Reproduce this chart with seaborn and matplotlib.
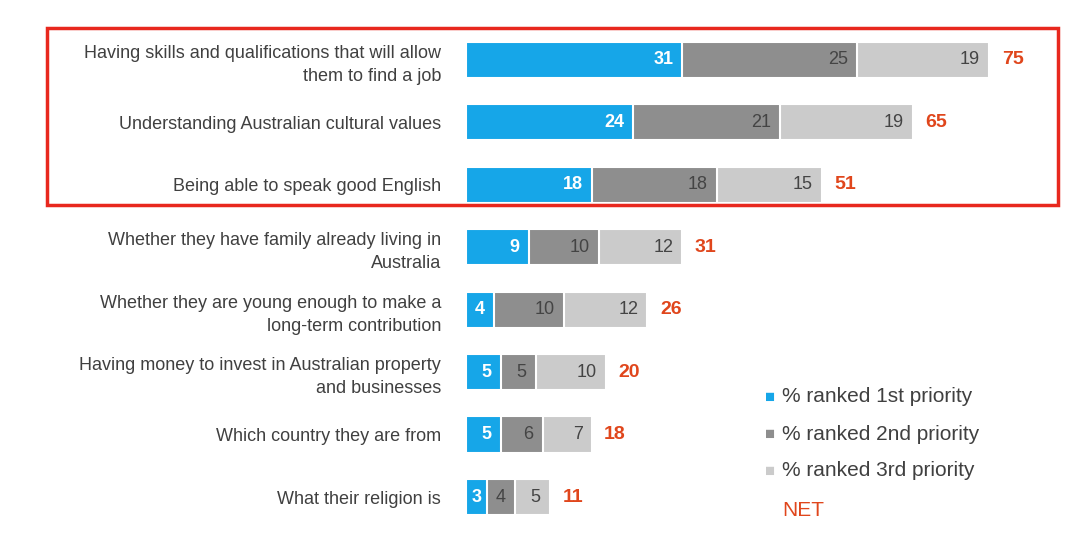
import matplotlib
matplotlib.use("Agg")
import matplotlib.pyplot as plt
import seaborn as sns
import pandas as pd
from matplotlib.patches import Rectangle

labels = ["Having skills and qualifications that will allow\nthem to find a job",
          "Understanding Australian cultural values",
          "Being able to speak good English",
          "Whether they have family already living in\nAustralia",
          "Whether they are young enough to make a\nlong-term contribution",
          "Having money to invest in Australian property\nand businesses",
          "Which country they are from",
          "What their religion is"]
first = [31, 24, 18, 9, 4, 5, 5, 3]
second = [25, 21, 18, 10, 10, 5, 6, 4]
third = [19, 19, 15, 12, 12, 10, 7, 5]
net = [75, 65, 51, 31, 26, 20, 18, 11]

blue, dark, light, red = "#16a6e8", "#8e8e8e", "#cbcbcb", "#e0461c"

sns.set_style("white")
plt.rcParams['font.family'] = ['Liberation Sans', 'DejaVu Sans']
fig = plt.figure(figsize=(10.8, 5.47), dpi=100)
ax = fig.add_axes([466 / 1080, 0, 1 - 466 / 1080, 1])

df = pd.DataFrame({"label": labels, "f": first, "s": second, "t": third})
df["c2"] = df["f"] + df["s"]
df["c3"] = df["c2"] + df["t"]

for col, c in [("c3", light), ("c2", dark), ("f", blue)]:
    sns.barplot(data=df, x=col, y="label", color=c, width=0.58, saturation=1,
                edgecolor="white", linewidth=1.5, ax=ax)

for i in range(len(labels)):
    ax.text(first[i] - 1.3 if first[i] > 4 else first[i] / 2, i, str(first[i]),
            ha="right" if first[i] > 4 else "center",
            va="center", color="white", fontsize=13, fontweight="bold")
    ax.text(df["c2"][i] - 1.3, i, str(second[i]), ha="right", va="center", color="#444444", fontsize=13)
    ax.text(df["c3"][i] - 1.3, i, str(third[i]), ha="right", va="center", color="#444444", fontsize=13)
    ax.text(df["c3"][i] + 1.8, i, str(net[i]), ha="left", va="center", color=red,
            fontsize=14, fontweight="bold")
ax.set_xlim(0, 88)
ax.set_ylim(7.8, -0.96)
ax.set_xlabel("")
ax.set_ylabel("")
ax.set_xticks([])
ax.tick_params(axis="y", length=0, pad=18, labelsize=13, labelcolor="#404040")
for lab in ax.get_yticklabels():
    lab.set_horizontalalignment("right")
    lab.set_multialignment("right")
    lab.set_linespacing(1.45)
sns.despine(ax=ax, left=True, bottom=True)

fig.patches.append(Rectangle((47 / 1080, 1 - 205 / 547), (1058 - 47) / 1080, (205 - 28) / 547,
                             transform=fig.transFigure, fill=False, edgecolor="#e8281e", linewidth=2.5))

leg = [(blue, "% ranked 1st priority"), (dark, "% ranked 2nd priority"), (light, "% ranked 3rd priority")]
for k, (c, t) in enumerate(leg):
    y = 1 - (397 + 37 * k) / 547
    fig.text(770 / 1080, y, "■", color=c, fontsize=12, va="center", ha="center")
    fig.text(782 / 1080, y, t, color="#404040", fontsize=15, va="center")
fig.text(782 / 1080, 1 - 510 / 547, "NET", color=red, fontsize=15, va="center")

fig.savefig("out.png", dpi=100, facecolor="white")
